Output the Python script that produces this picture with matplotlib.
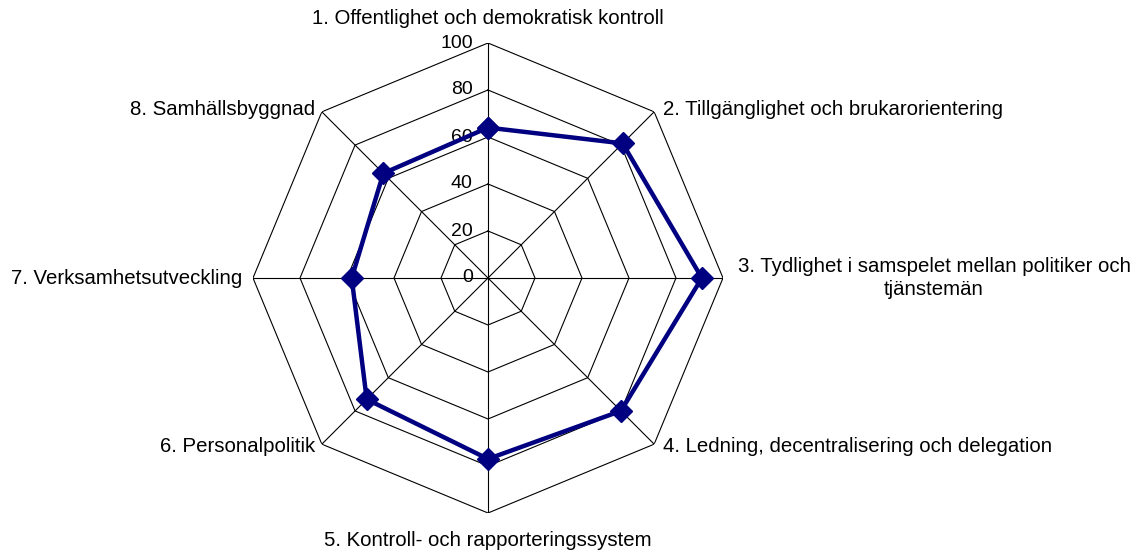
import numpy as np
import matplotlib.pyplot as plt

plt.rcParams['font.family'] = ['Liberation Sans', 'DejaVu Sans']

categories = [
    "1. Offentlighet och demokratisk kontroll",
    "2. Tillgänglighet och brukarorientering",
    "3. Tydlighet i samspelet mellan politiker och\ntjänstemän",
    "4. Ledning, decentralisering och delegation",
    "5. Kontroll- och rapporteringssystem",
    "6. Personalpolitik",
    "7. Verksamhetsutveckling",
    "8. Samhällsbyggnad",
]
values = [64, 81, 91, 80, 77, 73, 58, 63]
ticks = [0, 20, 40, 60, 80, 100]

n = len(categories)
theta = np.arange(n) * 2 * np.pi / n
theta_c = np.append(theta, theta[0])

W, H = 1142, 551
fig = plt.figure(figsize=(W / 100, H / 100), dpi=100)
cx, cy, R = 488, 273, 235
ax = fig.add_axes([(cx - R) / W, (cy - R) / H, 2 * R / W, 2 * R / H],
                  projection='polar')
ax.set_theta_zero_location('N')
ax.set_theta_direction(-1)
ax.set_ylim(0, 100)
ax.grid(False)
ax.spines['polar'].set_visible(False)
ax.set_xticks([])
ax.set_yticks([])
ax.patch.set_alpha(0)

# octagon rings and spokes
for t in ticks[1:]:
    ax.plot(theta_c, [t] * (n + 1), color='black', lw=0.8, zorder=1)
for th in theta:
    ax.plot([th, th], [0, 100], color='black', lw=0.8, zorder=1)

# tick labels
for t in ticks:
    ax.annotate(str(t), (0, t), xytext=(-11, 0), textcoords='offset points',
                ha='right', va='center', fontsize=14)

vals_c = values + values[:1]
ax.plot(theta_c, vals_c, color='#000080', lw=3.2, marker='D', markersize=11,
        zorder=3, clip_on=False)

# category labels
offsets = [
    ((0, 11), 'center', 'bottom'),
    ((6, 2), 'left', 'center'),
    ((152, 0), 'center', 'center'),
    ((6, -2), 'left', 'center'),
    ((0, -13), 'center', 'top'),
    ((-5, -2), 'right', 'center'),
    ((-8, 0), 'right', 'center'),
    ((-5, 2), 'right', 'center'),
]
for th, lab, (off, ha, va) in zip(theta, categories, offsets):
    ax.annotate(lab, (th, 100), xytext=off, textcoords='offset points',
                ha=ha, va=va, fontsize=14.7, multialignment='center',
                linespacing=1.3, annotation_clip=False)

fig.savefig('out.png', dpi=100)
